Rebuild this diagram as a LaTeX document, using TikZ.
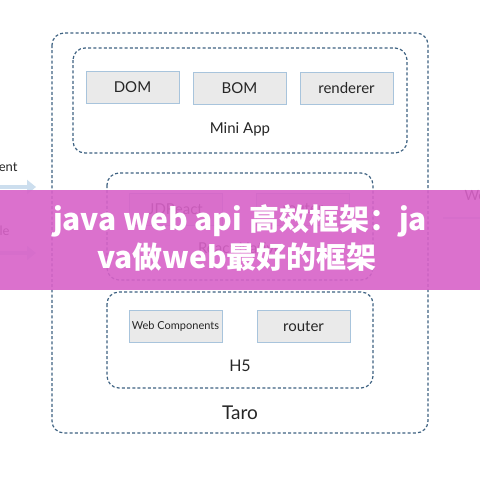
\documentclass[tikz,border=0pt]{standalone}
\usepackage{fontspec}
\setmainfont{Lato}
\newfontfamily\cjk{Noto Sans CJK SC}
\usepackage{tikz}
\usetikzlibrary{calc,arrows.meta}
\usepackage{xcolor}
\definecolor{dashblue}{RGB}{62,98,130}
\definecolor{partfill}{RGB}{234,234,234}
\definecolor{partline}{RGB}{168,196,220}
\definecolor{flowblue}{RGB}{204,222,238}
\definecolor{bannerpink}{RGB}{216,98,200}
\newcommand{\fs}[1]{\fontsize{#1}{#1}\selectfont}
\newcommand{\layerbox}[2]{\draw[layer] (#1) rectangle (#2);}
\newcommand{\tpart}[3]{\node[partbox] (#1) at (#2) {#3};}
\tikzset{
  layer/.style={draw=dashblue, line width=1.2pt, dash pattern=on 3pt off 2.2pt, rounded corners=12pt},
  partbox/.style={draw=partline, fill=partfill, line width=1pt, minimum width=93pt, minimum height=32pt, inner sep=0pt, text=black!85, font=\fs{15}},
  caption/.style={text=black!85, font=\fs{15}},
  flow/.style={draw=flowblue, line width=4pt, -{Triangle[length=9pt,width=14pt]}},
  bannertext/.style={text=white, font=\cjk\bfseries\fs{30}},
}

\begin{document}
\begin{tikzpicture}[x=1pt,y=-1pt]

    \useasboundingbox (0,0) rectangle (480,480);
    \fill[white] (0,0) rectangle (480,480);

    % Taro
    \layerbox{52,33}{428,433}
    \node[caption, font=\fs{19}] (taro) at (240,413) {Taro};

    % Mini App
    \layerbox{73,48}{407,153}
    \tpart{dom}{132.5,87}{DOM}
    \tpart{bom}{239.5,88}{BOM}
    \tpart{renderer}{346.5,88}{renderer}
    \node[caption] (miniapp) at (240,129) {Mini App};

    % React Native
    \layerbox{107,173}{373,280}
    \tpart{jdreact}{175.5,209}{JDReact}
    \tpart{rnrouter}{303,209}{router}
    \node[caption] (reactnative) at (240,248) {React Native};

    % H5
    \layerbox{107,292}{373,388}
    \tpart{webcomp}{175.5,326}{\fs{11}Web Components}
    \tpart{hrouter}{303.5,326.5}{router}
    \node[caption, font=\fs{16}] (h5) at (240,366) {H5};

    % left and right edges
    \node[caption, font=\fs{13}, anchor=east] (compleft) at (21,167) {ment};
    \node[caption, font=\fs{13}, anchor=east] (cycleleft) at (13,231) {cle};
    \coordinate (flowAin) at (-5,187);
    \coordinate (flowAout) at (36,187);
    \coordinate (flowBin) at (-5,253);
    \coordinate (flowBout) at (36,253);
    \draw[flow] (flowAin) -- (flowAout);
    \draw[flow] (flowBin) -- (flowBout);
    \node[caption, font=\fs{14}, anchor=west] (webright) at (461,196) {We};
    \coordinate (lineRa) at (443,218);
    \coordinate (lineRb) at (485,218);
    \draw[flowblue, line width=2pt] (lineRa) -- (lineRb);

    % banner
    \fill[bannerpink, fill opacity=0.9] (0,190) rectangle (480,290);
    \node[bannertext] (titleA) at (240,221) {java web api 高效框架：ja};
    \node[bannertext] (titleB) at (237,257) {va做web最好的框架};

\end{tikzpicture}
\end{document}
